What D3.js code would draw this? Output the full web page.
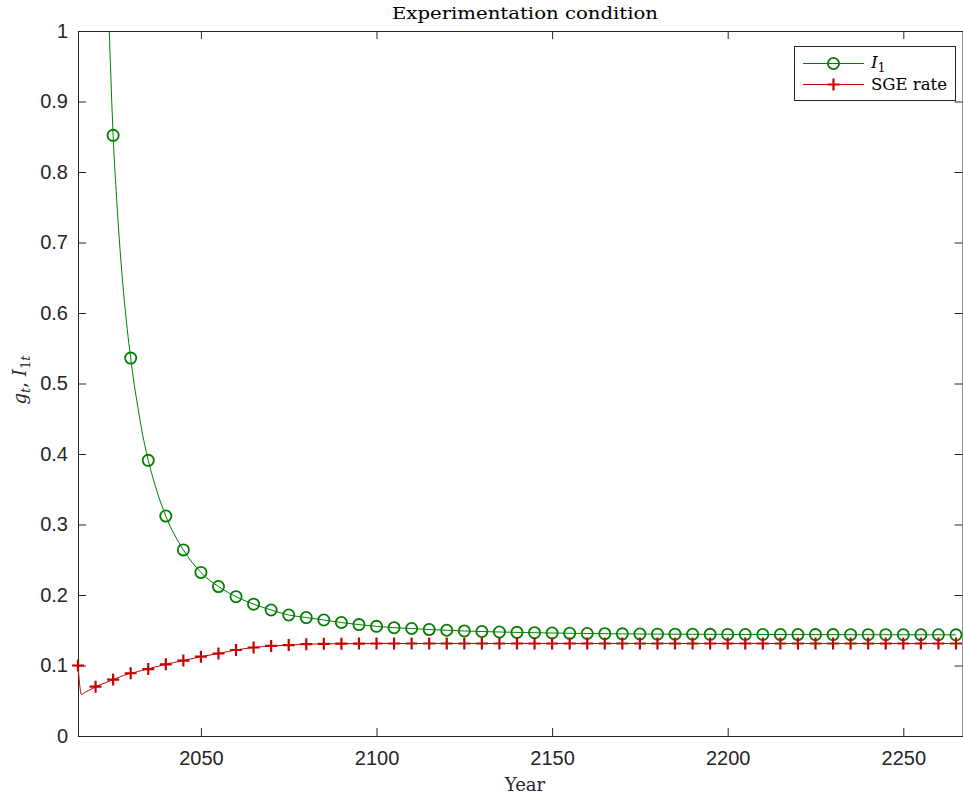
<!DOCTYPE html>
<html>
<head>
<meta charset="utf-8">
<script src="https://cdn.jsdelivr.net/npm/d3@7"></script>
<style>
  html, body { margin: 0; padding: 0; background: #fff; }
  svg { display: block; }
</style>
</head>
<body>
<svg id="chart" width="963" height="797"></svg>
<script>
// Sample years: annual through 2040, then every five years
const years = [
  2015, 2016, 2017, 2018, 2019, 2020, 2021, 2022, 2023, 2024, 2025, 2026, 2027,
  2028, 2029, 2030, 2031, 2032, 2033, 2034, 2035, 2036, 2037, 2038, 2039, 2040,
  2045, 2050, 2055, 2060, 2065, 2070, 2075, 2080, 2085, 2090, 2095, 2100,
  2105, 2110, 2115, 2120, 2125, 2130, 2135, 2140, 2145, 2150, 2155, 2160,
  2165, 2170, 2175, 2180, 2185, 2190, 2195, 2200, 2205, 2210, 2215, 2220,
  2225, 2230, 2235, 2240, 2245, 2250, 2255, 2260, 2265
];

// I_1 (off the top of the axis before 2023)
const i1Values = [
  null, null, null, null, null, null, null, null, 1.13, 0.985, 0.852, 0.762, 0.688,
  0.628, 0.578, 0.536, 0.499, 0.468, 0.438, 0.413, 0.391, 0.372, 0.355, 0.339, 0.325, 0.312,
  0.264, 0.232, 0.212, 0.1976, 0.187, 0.1787, 0.1716, 0.168, 0.1645, 0.161, 0.158, 0.1555,
  0.1536, 0.1525, 0.151, 0.150, 0.149, 0.1482, 0.1475, 0.147, 0.1465, 0.1461, 0.1457, 0.1454,
  0.1451, 0.1449, 0.1447, 0.1445, 0.1444, 0.1443, 0.1442, 0.1441, 0.144, 0.144, 0.1439, 0.1439,
  0.1438, 0.1438, 0.1437, 0.1437, 0.1437, 0.1436, 0.1436, 0.1436, 0.1435
];

// SGE rate
const sgeValues = [
  0.1, 0.059, 0.062, 0.0645, 0.067, 0.070, 0.072, 0.074, 0.076, 0.078, 0.080, 0.082, 0.084,
  0.0858, 0.0875, 0.089, 0.090, 0.0915, 0.0927, 0.094, 0.095, 0.0965, 0.098, 0.099, 0.1005, 0.1017,
  0.107, 0.1125, 0.117, 0.122, 0.1255, 0.1277, 0.129, 0.1302, 0.1307, 0.131, 0.1311, 0.1312,
  0.1312, 0.1312, 0.1312, 0.1312, 0.1312, 0.1312, 0.1312, 0.1312, 0.1312, 0.1312, 0.1312, 0.1312,
  0.1312, 0.1312, 0.1312, 0.1312, 0.1312, 0.1312, 0.1312, 0.1312, 0.1312, 0.1312, 0.1312, 0.1312,
  0.1312, 0.1312, 0.1312, 0.1312, 0.1312, 0.1312, 0.1312, 0.1312, 0.1312
];

const xTicks = [2050, 2100, 2150, 2200, 2250];
const yTicks = [0, 0.1, 0.2, 0.3, 0.4, 0.5, 0.6, 0.7, 0.8, 0.9, 1];
const yTickLabels = ["0", "0.1", "0.2", "0.3", "0.4", "0.5", "0.6", "0.7", "0.8", "0.9", "1"];

const titleText = "Experimentation condition";
const xLabelText = "Year";
const legendSGE = "SGE rate";

const green = "#007f00";
const red = "#c80000";
const axisColor = "#262626";
const serif = "'DejaVu Serif', 'Liberation Serif', serif";
const sans = "'Liberation Sans', Arial, Helvetica, sans-serif";

const margin = { left: 78, top: 31, right: 963, bottom: 736 };
const svg = d3.select("#chart");

const x = d3.scaleLinear().domain([2015, 2267]).range([margin.left, margin.right]);
const y = d3.scaleLinear().domain([0, 1]).range([margin.bottom, margin.top]);

const i1Data = years.map((yr, i) => ({ year: yr, v: i1Values[i] }));
const sgeData = years.map((yr, i) => ({ year: yr, v: sgeValues[i] }));

svg.append("defs").append("clipPath").attr("id", "plotClip")
  .append("rect")
  .attr("x", margin.left).attr("y", margin.top)
  .attr("width", margin.right - margin.left)
  .attr("height", margin.bottom - margin.top);

// Axes: box with inward ticks on all four sides
const tickLen = 8;
const fmtTick = (d) => yTickLabels[yTicks.indexOf(d)];

const gBottom = svg.append("g").attr("transform", `translate(0,${margin.bottom})`)
  .call(d3.axisBottom(x).tickValues(xTicks).tickFormat(d3.format("d")).tickSizeInner(-tickLen).tickSizeOuter(0).tickPadding(15));
const gTop = svg.append("g").attr("transform", `translate(0,${margin.top})`)
  .call(d3.axisTop(x).tickValues(xTicks).tickFormat("").tickSizeInner(-tickLen).tickSizeOuter(0));
const gLeft = svg.append("g").attr("transform", `translate(${margin.left},0)`)
  .call(d3.axisLeft(y).tickValues(yTicks).tickFormat(fmtTick).tickSizeInner(-tickLen).tickSizeOuter(0).tickPadding(10));
const gRight = svg.append("g").attr("transform", `translate(${margin.right - 0.5},0)`)
  .call(d3.axisRight(y).tickValues(yTicks).tickFormat("").tickSizeInner(-tickLen).tickSizeOuter(0));

[gBottom, gTop, gLeft, gRight].forEach(g => {
  g.selectAll(".domain").attr("stroke", axisColor).attr("stroke-width", 1);
  g.selectAll(".tick line").attr("stroke", axisColor).attr("stroke-width", 1);
  g.selectAll(".tick text").attr("fill", axisColor).attr("font-family", sans).attr("font-size", 20);
});

const plot = svg.append("g").attr("clip-path", "url(#plotClip)");

const line = d3.line()
  .defined(d => d.v !== null)
  .x(d => x(d.year)).y(d => y(d.v))
  .curve(d3.curveMonotoneX);

plot.append("path").datum(i1Data)
  .attr("fill", "none").attr("stroke", green).attr("stroke-width", 1)
  .attr("d", line);

plot.append("path").datum(sgeData)
  .attr("fill", "none").attr("stroke", red).attr("stroke-width", 1)
  .attr("d", line);

// Markers every five years
const i1Marks = i1Data.filter(d => d.v !== null && d.year % 5 === 0 && d.v <= 1);
const sgeMarks = sgeData.filter(d => d.year % 5 === 0);

plot.selectAll(".i1mark").data(i1Marks).enter().append("circle")
  .attr("class", "i1mark")
  .attr("cx", d => x(d.year)).attr("cy", d => y(d.v)).attr("r", 5.6)
  .attr("fill", "none").attr("stroke", green).attr("stroke-width", 1.8);

const plusSize = 6;
const plusPath = (cx, cy) => `M${cx - plusSize},${cy}H${cx + plusSize}M${cx},${cy - plusSize}V${cy + plusSize}`;
svg.append("g").selectAll(".sgemark").data(sgeMarks).enter().append("path")
  .attr("class", "sgemark")
  .attr("d", d => plusPath(x(d.year), y(d.v)))
  .attr("fill", "none").attr("stroke", red).attr("stroke-width", 2.2);

// Title and axis labels
svg.append("text").attr("x", 525).attr("y", 19)
  .attr("text-anchor", "middle").attr("font-family", serif).attr("font-size", 17).attr("fill", "#000")
  .attr("textLength", 266).attr("lengthAdjust", "spacingAndGlyphs")
  .text(titleText);

svg.append("text").attr("x", 525).attr("y", 791)
  .attr("text-anchor", "middle").attr("font-family", serif).attr("font-size", 18).attr("fill", axisColor)
  .text(xLabelText);

const yl = svg.append("text")
  .attr("transform", `translate(26,380) rotate(-90)`)
  .attr("text-anchor", "middle").attr("font-family", serif).attr("font-size", 18).attr("fill", axisColor)
  .style("white-space", "pre");
yl.append("tspan").attr("font-style", "italic").text("g");
yl.append("tspan").attr("font-style", "italic").attr("font-size", 13).attr("dy", 4).text("t");
yl.append("tspan").attr("dy", -4).text(",\u00a0");
yl.append("tspan").attr("font-style", "italic").text("I");
yl.append("tspan").attr("font-size", 13).attr("dy", 4).text("1");
yl.append("tspan").attr("font-style", "italic").attr("font-size", 13).text("t");

// Legend
const lg = svg.append("g");
lg.append("rect").attr("x", 794.5).attr("y", 46.5).attr("width", 161).attr("height", 54)
  .attr("fill", "#fff").attr("stroke", axisColor).attr("stroke-width", 1);
const rows = [
  { yy: 63.5, color: green, kind: "circle" },
  { yy: 84.5, color: red, kind: "plus" }
];
rows.forEach(r => {
  lg.append("line").attr("x1", 803).attr("x2", 864).attr("y1", r.yy).attr("y2", r.yy)
    .attr("stroke", r.color).attr("stroke-width", 1);
  if (r.kind === "circle") {
    lg.append("circle").attr("cx", 833.5).attr("cy", r.yy).attr("r", 5.6)
      .attr("fill", "none").attr("stroke", r.color).attr("stroke-width", 1.8);
  } else {
    lg.append("path").attr("d", plusPath(833.5, r.yy))
      .attr("fill", "none").attr("stroke", r.color).attr("stroke-width", 2.2);
  }
});
const t1 = lg.append("text").attr("x", 871).attr("y", 67.5).attr("font-family", serif).attr("font-size", 17).attr("fill", "#000");
t1.append("tspan").attr("font-style", "italic").text("I");
t1.append("tspan").attr("font-size", 12).attr("dy", 4).text("1");
lg.append("text").attr("x", 871).attr("y", 90).attr("font-family", serif).attr("font-size", 17).attr("fill", "#000")
  .attr("textLength", 76).attr("lengthAdjust", "spacingAndGlyphs")
  .text(legendSGE);
</script>
</body>
</html>
